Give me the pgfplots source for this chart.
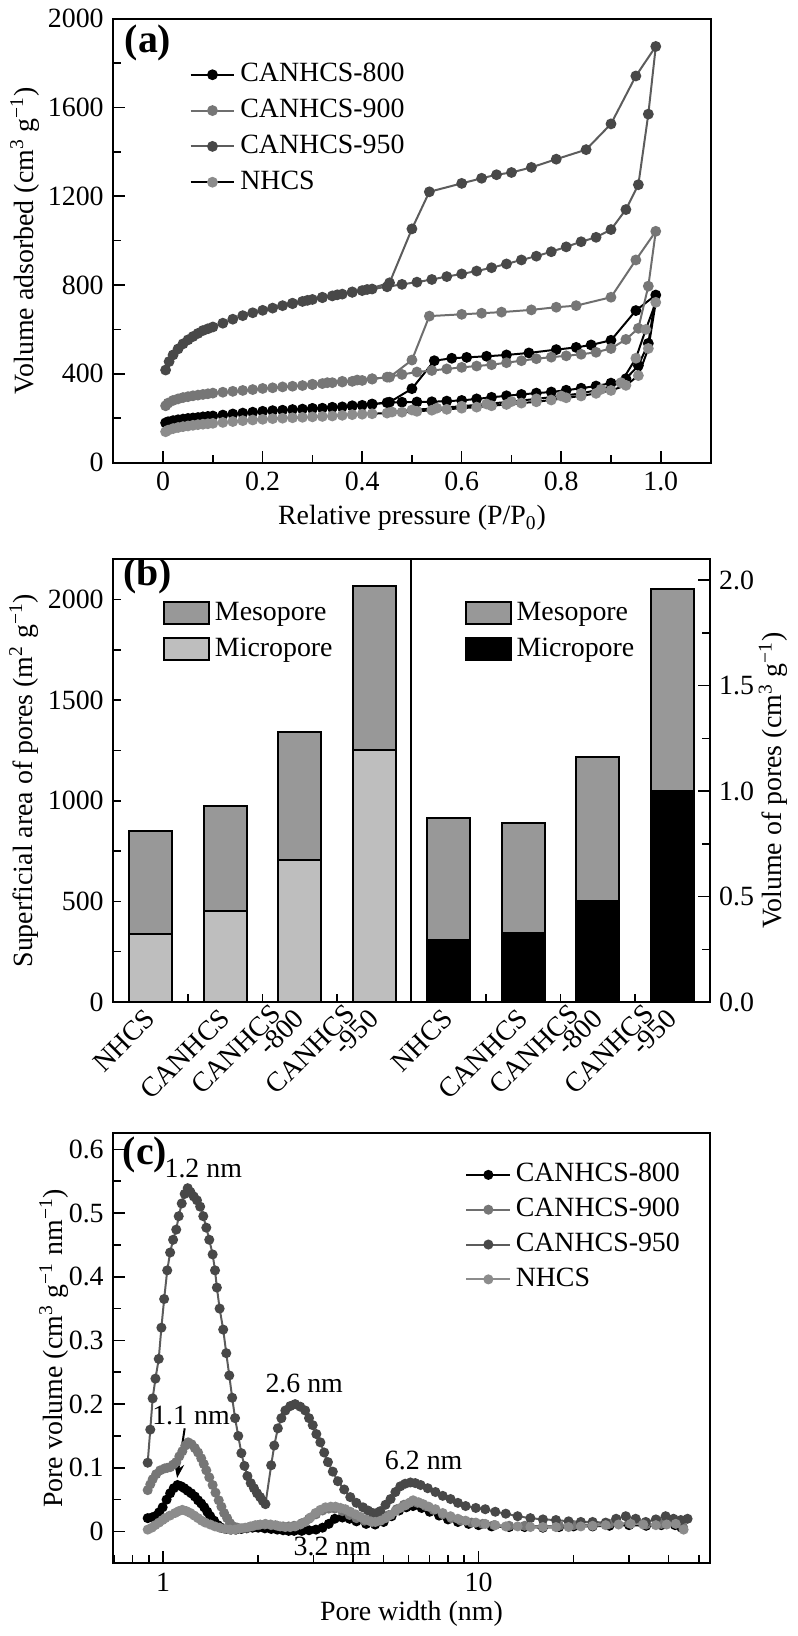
\documentclass[border=0pt]{standalone}
\usepackage{fontspec}
\setmainfont{Liberation Serif}
\usepackage{pgfplots}
\pgfplotsset{compat=1.18}
\usetikzlibrary{arrows.meta}

\definecolor{gnine}{HTML}{6E6E6E}
\definecolor{gninem}{HTML}{767676}
\definecolor{gfive}{HTML}{5C5C5C}
\definecolor{gfivem}{HTML}{484848}
\definecolor{gnh}{HTML}{8C8C8C}
\definecolor{meso}{HTML}{989898}
\definecolor{micro}{HTML}{BEBEBE}

\pgfplotsset{
  panel/.style={scale only axis, anchor=north west, tick align=inside,
    axis line style={line width=1bp}, tick style={line width=0.8bp, black},
    major tick length=6bp, minor tick length=4bp,
    /pgf/number format/assume math mode=true,
    /pgf/number format/1000 sep={},
    legend cell align=left},
  iso/.style={line width=1bp, mark=*, mark size=2.2bp},
  lgd/.style={draw=none, fill=none, inner sep=0pt, row sep=0pt, anchor=north west,
    nodes={inner sep=2.5bp, text height=10bp, text depth=3bp}},
}
\newcommand{\tag}[1]{\fontsize{20bp}{20bp}\selectfont\bfseries #1}
% two-line category label: second line takes the tick position, first line sits above it
\newcommand{\twoline}[2]{\llap{\raisebox{10bp}[0pt][0pt]{#1}\hspace{-19bp}}#2}

\begin{document}
\fontsize{14bp}{17bp}\selectfont
\begin{tikzpicture}
\path (0,0) rectangle (395bp,-818bp);

% ---------------- (a) isotherms
\begin{axis}[panel, at={(54.5bp,-7bp)}, width=300bp, height=223bp,
  xmin=-0.1, xmax=1.1, ymin=0, ymax=2000, tick pos=left,
  xtick={0,0.2,0.4,0.6,0.8,1.0}, xticklabels={0,0.2,0.4,0.6,0.8,1.0},
  minor xtick={0.1,0.3,0.5,0.7,0.9},
  ytick={0,400,...,2000}, minor ytick={200,600,...,1800},
  xlabel={Relative pressure (P/P\textsubscript{0})},
  ylabel={Volume adsorbed (cm\textsuperscript{3} g\textsuperscript{\char"2212 1})},
  xlabel style={at={(axis description cs:0.5,-0.125)}, anchor=center},
  ylabel style={at={(axis description cs:-0.148,0.5)}, anchor=center},
  legend style={lgd, at={(0.127,0.915)}},
  legend image code/.code={\draw[mark repeat=2,mark phase=2,#1] plot coordinates {(0bp,0bp) (11bp,0bp) (22bp,0bp)};},
]
\addplot[iso, color=black, mark options={fill=black}] coordinates {
(0.005,179) (0.01,184) (0.02,189) (0.03,193) (0.04,196) (0.05,199) (0.06,201) (0.07,203)
(0.08,206) (0.09,208) (0.10,210) (0.12,214) (0.14,219) (0.16,223) (0.18,227) (0.20,231)
(0.22,234) (0.24,236) (0.26,239) (0.28,241) (0.30,243) (0.32,245) (0.34,248) (0.36,251)
(0.38,254) (0.40,258) (0.42,262) (0.45,270) (0.48,272) (0.51,273) (0.54,274) (0.57,277)
(0.60,280) (0.63,287) (0.66,294) (0.69,301) (0.72,307) (0.75,313) (0.78,318) (0.81,326)
(0.84,335) (0.87,345) (0.90,358) (0.93,378) (0.955,437) (0.975,537) (0.99,755)
(0.95,685) (0.90,551) (0.86,530) (0.83,519) (0.79,509) (0.735,494) (0.69,485) (0.65,479)
(0.61,474) (0.58,470) (0.545,459) (0.50,333) (0.455,272) (0.42,264) (0.38,256) (0.34,249) (0.30,244)};
\addlegendentry{CANHCS-800}
\addplot[iso, color=gnine, mark options={fill=gninem, draw=gninem}] coordinates {
(0.005,256) (0.01,268) (0.02,280) (0.03,287) (0.04,293) (0.05,297) (0.06,301) (0.07,304)
(0.08,307) (0.09,310) (0.10,313) (0.12,317) (0.14,321) (0.16,325) (0.18,329) (0.20,334)
(0.22,337) (0.24,341) (0.26,344) (0.28,347) (0.30,351) (0.32,356) (0.34,360) (0.36,363)
(0.38,366) (0.40,370) (0.42,376) (0.45,385) (0.48,397) (0.51,408) (0.54,415) (0.57,422)
(0.60,429) (0.63,435) (0.66,441) (0.69,450) (0.72,459) (0.75,468) (0.78,475) (0.81,481)
(0.84,488) (0.87,497) (0.90,514) (0.93,555) (0.955,605) (0.975,795) (0.99,1042)
(0.95,913) (0.90,745) (0.83,707) (0.79,700) (0.74,688) (0.68,678) (0.64,673) (0.60,668)
(0.535,660) (0.50,462) (0.455,385) (0.42,378) (0.39,372) (0.36,366) (0.33,360) (0.30,353)};
\addlegendentry{CANHCS-900}
\addplot[iso, color=gfive, mark options={fill=gfivem, draw=gfivem}] coordinates {
(0.005,417) (0.012,455) (0.02,485) (0.03,512) (0.04,535) (0.05,553) (0.06,568) (0.07,582)
(0.08,595) (0.09,603) (0.10,611) (0.12,628) (0.14,646) (0.16,662) (0.18,675) (0.20,686)
(0.22,696) (0.24,707) (0.26,716) (0.28,726) (0.30,735) (0.32,743) (0.34,751) (0.36,759)
(0.38,767) (0.40,775) (0.42,782) (0.45,792) (0.48,803) (0.51,813) (0.54,825) (0.57,838)
(0.60,850) (0.63,863) (0.66,878) (0.69,895) (0.72,913) (0.75,930) (0.78,950) (0.81,972)
(0.84,995) (0.87,1015) (0.90,1050) (0.93,1140) (0.955,1252) (0.975,1570) (0.99,1875)
(0.95,1742) (0.90,1526) (0.85,1410) (0.79,1367) (0.74,1330) (0.70,1307) (0.67,1297)
(0.64,1281) (0.60,1258) (0.535,1220) (0.50,1053) (0.455,810) (0.41,780) (0.38,769)
(0.35,756) (0.32,745) (0.29,731) (0.26,718)};
\addlegendentry{CANHCS-950}
\addplot[iso, color=black, mark options={fill=gnh, draw=gnh}] coordinates {
(0.005,139) (0.01,146) (0.02,153) (0.03,158) (0.04,162) (0.05,165) (0.06,168) (0.07,171)
(0.08,173) (0.09,175) (0.10,177) (0.12,181) (0.14,185) (0.16,189) (0.18,192) (0.20,195)
(0.22,198) (0.24,200) (0.26,202) (0.28,204) (0.30,206) (0.32,208) (0.34,210) (0.36,213)
(0.38,216) (0.40,218) (0.42,220) (0.45,223) (0.48,227) (0.51,231) (0.54,236) (0.57,240)
(0.60,245) (0.63,250) (0.66,256) (0.69,262) (0.72,268) (0.75,274) (0.78,282) (0.81,292)
(0.84,300) (0.87,312) (0.90,325) (0.93,348) (0.955,392) (0.975,514) (0.99,722)
(0.97,600) (0.95,470) (0.92,360) (0.88,330) (0.84,312) (0.80,300) (0.75,287) (0.70,275)
(0.65,264) (0.60,254) (0.55,245) (0.50,237) (0.46,228)};
\addlegendentry{NHCS}
\node at (rel axis cs:0.058,0.946) {\tag{(a)}};
\end{axis}

% ---------------- (b) surface area (left half)
\begin{axis}[panel, at={(54.5bp,-278.5bp)}, width=299.5bp, height=222.5bp,
  xmin=-0.5, xmax=7.5, ymin=0, ymax=2200, tick pos=left,
  ybar stacked, bar width=21.5bp,
  xtick={0.5,1.5,2.5,4.5,5.5,6.5}, xticklabels={}, major tick length=4bp,
  extra x ticks={0,1,2,3,4,5,6,7},
  extra x tick labels={NHCS,CANHCS,\twoline{CANHCS}{-800},\twoline{CANHCS}{-950},
    NHCS,CANHCS,\twoline{CANHCS}{-800},\twoline{CANHCS}{-950}},
  extra x tick style={major tick length=0pt,
    tick label style={yshift=-6bp, rotate=45, anchor=east, inner sep=0pt}},
  ytick={0,500,...,2000}, minor ytick={250,750,...,1750},
  ylabel={Superficial area of pores (m\textsuperscript{2} g\textsuperscript{\char"2212 1})},
  ylabel style={at={(axis description cs:-0.15,0.5)}, anchor=center},
  reverse legend,
  legend style={lgd, at={(0.083,0.919)}},
  legend image code/.code={\draw[#1, line width=1bp] (0bp,-5.5bp) rectangle (22.5bp,5.5bp);},
]
\addplot[fill=micro, draw=black, line width=1bp] coordinates {(0,337) (1,451) (2,704) (3,1254)};
\addlegendentry{Micropore}
\addplot[fill=meso, draw=black, line width=1bp] coordinates {(0,512) (1,523) (2,635) (3,814)};
\addlegendentry{Mesopore}
\draw[line width=1bp] (axis cs:3.5,0) -- (axis cs:3.5,2200);
\node at (rel axis cs:0.058,0.962) {\tag{(b)}};
\end{axis}

% ---------------- (b) pore volume (right half)
\begin{axis}[panel, at={(54.5bp,-278.5bp)}, width=299.5bp, height=222.5bp,
  xmin=-0.5, xmax=7.5, ymin=0, ymax=2.1,
  axis y line*=right, axis x line=none,
  ybar stacked, bar width=21.5bp,
  ytick={0,0.5,...,2.0}, minor ytick={0.25,0.75,...,1.75},
  yticklabel style={/pgf/number format/.cd, fixed, fixed zerofill, precision=1},
  ylabel={Volume of pores (cm\textsuperscript{3} g\textsuperscript{\char"2212 1})},
  ylabel style={at={(axis description cs:1.107,0.5)}, anchor=center},
  reverse legend,
  legend style={lgd, at={(0.589,0.919)}},
  legend image code/.code={\draw[#1, line width=1bp] (0bp,-5.5bp) rectangle (22.5bp,5.5bp);},
]
\addplot[fill=black, draw=black, line width=1bp] coordinates {(4,0.292) (5,0.326) (6,0.477) (7,1.0)};
\addlegendentry{Micropore}
\addplot[fill=meso, draw=black, line width=1bp] coordinates {(4,0.579) (5,0.525) (6,0.684) (7,0.96)};
\addlegendentry{Mesopore}
\end{axis}

% ---------------- (c) pore size distribution
\begin{axis}[panel, at={(54.5bp,-567bp)}, width=299.5bp, height=216bp,
  xmode=log, xmin=0.695, xmax=54, ymin=-0.05, ymax=0.625, tick pos=left,
  xtick={1,10}, xticklabels={1,10},
  minor xtick={0.7,0.8,0.9,2,3,4,5,6,7,8,9,20,30,40,50},
  ytick={0,0.1,0.2,0.3,0.4,0.5,0.6}, yticklabels={0,0.1,0.2,0.3,0.4,0.5,0.6},
  minor ytick={-0.05,0.05,0.15,0.25,0.35,0.45,0.55},
  xlabel={Pore width (nm)},
  ylabel={Pore volume (cm\textsuperscript{3} g\textsuperscript{\char"2212 1} nm\textsuperscript{\char"2212 1})},
  xlabel style={at={(axis description cs:0.5,-0.118)}, anchor=center},
  ylabel style={at={(axis description cs:-0.1,0.5)}, anchor=center},
  legend style={lgd, at={(0.59,0.945)}, nodes={inner sep=2.25bp}},
  legend image code/.code={\draw[mark repeat=2,mark phase=2,#1] plot coordinates {(0bp,0bp) (11bp,0bp) (22bp,0bp)};},
]
\addplot[iso, mark size=2bp, color=black, mark options={fill=black}] coordinates {
(0.893,0.021) (0.92,0.022) (0.943,0.024) (0.97,0.030) (0.996,0.038) (1.025,0.050) (1.052,0.060)
(1.08,0.068) (1.11,0.073) (1.14,0.071) (1.166,0.068) (1.195,0.064) (1.227,0.060) (1.26,0.055)
(1.29,0.049) (1.32,0.044) (1.35,0.038) (1.38,0.031) (1.41,0.024) (1.45,0.017) (1.49,0.010)
(1.53,0.006) (1.58,0.004) (1.64,0.003) (1.70,0.003) (1.77,0.004) (1.84,0.005) (1.92,0.006)
(2.0,0.006) (2.1,0.005) (2.2,0.004) (2.3,0.003) (2.4,0.002) (2.5,0.001) (2.6,0.001) (2.75,0.001)
(2.9,0.002) (3.05,0.003) (3.2,0.006) (3.35,0.012) (3.5,0.02) (3.7,0.022) (3.9,0.02) (4.1,0.016)
(4.4,0.012) (4.7,0.011) (5.0,0.015) (5.3,0.024) (5.6,0.033) (5.9,0.038) (6.2,0.040) (6.6,0.037)
(7.0,0.031) (7.5,0.025) (8.0,0.019) (8.6,0.015) (9.3,0.012) (10,0.010) (11,0.008) (12.5,0.007)
(14,0.007) (16,0.006) (18,0.007) (20,0.008) (23,0.008) (26,0.009) (30,0.010) (34,0.009)
(38,0.010) (42,0.010) (44,0.006)};
\addlegendentry{CANHCS-800}
\addplot[iso, mark size=2bp, color=gnine, mark options={fill=gninem, draw=gninem}] coordinates {
(0.893,0.065) (0.91,0.074) (0.926,0.082) (0.95,0.090) (0.978,0.096) (1.01,0.099) (1.03,0.100)
(1.052,0.101) (1.075,0.105) (1.10,0.109) (1.125,0.118) (1.15,0.126) (1.175,0.135) (1.20,0.140)
(1.23,0.137) (1.26,0.131) (1.29,0.124) (1.32,0.115) (1.345,0.106) (1.37,0.096) (1.40,0.085)
(1.435,0.073) (1.465,0.061) (1.50,0.049) (1.53,0.039) (1.56,0.029) (1.595,0.021) (1.63,0.013)
(1.67,0.008) (1.72,0.006) (1.78,0.005) (1.85,0.006) (1.92,0.008) (2.0,0.010) (2.1,0.011)
(2.2,0.010) (2.3,0.009) (2.4,0.008) (2.5,0.008) (2.6,0.009) (2.75,0.013) (2.9,0.020) (3.05,0.027)
(3.2,0.033) (3.35,0.036) (3.5,0.036) (3.7,0.032) (3.9,0.026) (4.1,0.021) (4.35,0.017) (4.6,0.015)
(4.9,0.018) (5.2,0.026) (5.5,0.035) (5.8,0.042) (6.1,0.046) (6.4,0.045) (6.8,0.040) (7.2,0.034)
(7.7,0.027) (8.2,0.021) (8.8,0.017) (9.5,0.014) (10.3,0.012) (11.2,0.010) (12.5,0.009) (14,0.009)
(16,0.008) (18,0.009) (20,0.010) (23,0.011) (26,0.012) (30,0.013) (34,0.011) (38,0.012)
(42,0.013) (44.5,0.007)};
\addlegendentry{CANHCS-900}
\addplot[iso, mark size=2bp, color=gfive, mark options={fill=gfivem, draw=gfivem}] coordinates {
(0.893,0.108) (0.91,0.16) (0.926,0.209) (0.945,0.24) (0.968,0.271) (0.987,0.32) (1.007,0.365)
(1.03,0.41) (1.052,0.438) (1.075,0.458) (1.10,0.474) (1.12,0.495) (1.145,0.515) (1.17,0.53)
(1.196,0.539) (1.22,0.533) (1.25,0.526) (1.28,0.52) (1.31,0.510) (1.34,0.495) (1.37,0.477)
(1.40,0.458) (1.435,0.435) (1.46,0.41) (1.48,0.383) (1.51,0.35) (1.55,0.317) (1.585,0.28)
(1.62,0.245) (1.655,0.21) (1.69,0.178) (1.73,0.15) (1.77,0.123) (1.81,0.103) (1.85,0.087)
(1.895,0.076) (1.94,0.068) (1.985,0.06) (2.03,0.054) (2.07,0.048) (2.11,0.043) (2.2,0.104)
(2.25,0.135) (2.31,0.162) (2.37,0.178) (2.44,0.19) (2.53,0.197) (2.62,0.2) (2.72,0.196)
(2.82,0.19) (2.90,0.178) (2.98,0.167) (3.06,0.153) (3.15,0.14) (3.24,0.124) (3.33,0.109)
(3.45,0.094) (3.58,0.079) (3.75,0.066) (3.92,0.054) (4.1,0.045) (4.3,0.038) (4.46,0.033)
(4.62,0.029) (4.75,0.029) (4.88,0.032) (5.07,0.042) (5.26,0.051) (5.45,0.062) (5.65,0.071)
(5.85,0.075) (6.08,0.077) (6.3,0.076) (6.55,0.073) (6.9,0.068) (7.3,0.062) (7.7,0.056)
(8.15,0.051) (8.6,0.045) (9.1,0.040) (9.8,0.037) (10.5,0.035) (11.3,0.031) (12.2,0.028)
(13.3,0.024) (14.6,0.021) (16,0.019) (17.6,0.018) (19.3,0.016) (21.1,0.015) (23,0.015)
(25.3,0.014) (27.3,0.020) (29.3,0.024) (31.5,0.020) (33.9,0.015) (36.5,0.019) (39.2,0.024)
(41.5,0.020) (43.8,0.018) (46,0.020)};
\addlegendentry{CANHCS-950}
\addplot[iso, mark size=2bp, color=gnh, mark options={fill=gnh, draw=gnh}] coordinates {
(0.893,0.003) (0.92,0.006) (0.943,0.010) (0.97,0.014) (0.995,0.018) (1.015,0.021) (1.05,0.025)
(1.09,0.029) (1.12,0.032) (1.15,0.034) (1.185,0.032) (1.22,0.029) (1.255,0.025) (1.29,0.021)
(1.325,0.017) (1.36,0.014) (1.41,0.011) (1.46,0.008) (1.51,0.006) (1.57,0.004) (1.63,0.003)
(1.69,0.003) (1.75,0.005) (1.82,0.006) (1.89,0.008) (1.96,0.010) (2.03,0.011) (2.11,0.012)
(2.19,0.011) (2.27,0.010) (2.35,0.008) (2.44,0.007) (2.53,0.007) (2.62,0.008) (2.72,0.011)
(2.82,0.015) (2.93,0.022) (3.04,0.029) (3.15,0.034) (3.27,0.038) (3.4,0.039) (3.52,0.039)
(3.65,0.037) (3.78,0.035) (3.92,0.031) (4.07,0.027) (4.22,0.023) (4.38,0.019) (4.55,0.016)
(4.71,0.015) (4.89,0.017) (5.07,0.021) (5.26,0.026) (5.45,0.032) (5.65,0.037) (5.86,0.041)
(6.03,0.045) (6.2,0.049) (6.45,0.046) (6.67,0.043) (6.95,0.039) (7.3,0.035) (7.7,0.029)
(8.15,0.024) (8.6,0.020) (9.1,0.017) (9.8,0.014) (10.5,0.012) (11.3,0.010) (12.2,0.008)
(13.3,0.008) (14.6,0.007) (16,0.007) (17.6,0.007) (19.3,0.007) (21.1,0.008) (23,0.009)
(25.3,0.010) (27.8,0.011) (30.4,0.012) (33.3,0.011) (36.5,0.010) (39.5,0.011) (42.2,0.012)
(44.7,0.003)};
\addlegendentry{NHCS}
\node at (axis cs:1.34,0.570) {1.2 nm};
\node at (axis cs:2.8,0.232) {2.6 nm};
\node at (axis cs:1.225,0.182) {1.1 nm};
\node at (axis cs:6.7,0.111) {6.2 nm};
\node at (axis cs:3.44,-0.023) {3.2 nm};
\draw[-{Stealth[length=7bp,width=5bp]}, line width=1bp] (axis cs:1.17,0.162) -- (axis cs:1.107,0.084);
\node at (rel axis cs:0.053,0.949) {\tag{(c)}};
\end{axis}
\end{tikzpicture}
\end{document}
